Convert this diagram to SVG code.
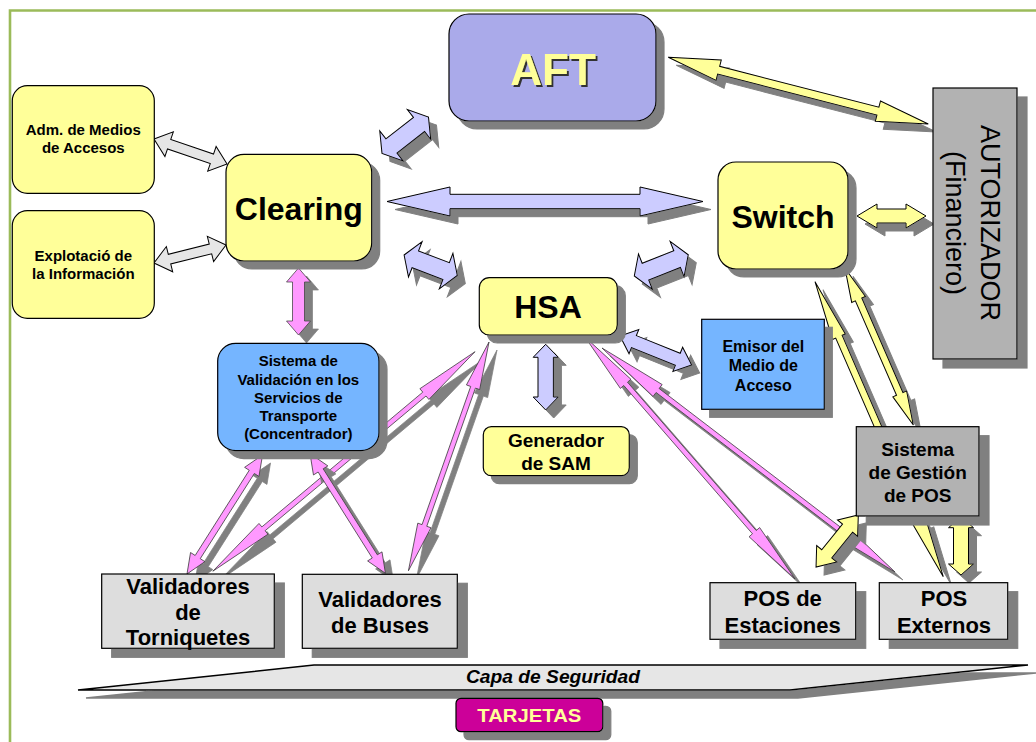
<svg xmlns="http://www.w3.org/2000/svg" width="1036" height="742" viewBox="0 0 1036 742">
  <defs>
    <!-- flat grey drop shadows -->
    <filter id="sh" filterUnits="userSpaceOnUse" x="0" y="0" width="1036" height="742">
      <feOffset in="SourceAlpha" dx="8" dy="8" result="o"/>
      <feFlood flood-color="#808080"/>
      <feComposite in2="o" operator="in" result="s"/>
      <feMerge><feMergeNode in="s"/><feMergeNode in="SourceGraphic"/></feMerge>
    </filter>
    <filter id="sh10" filterUnits="userSpaceOnUse" x="0" y="0" width="1036" height="742">
      <feOffset in="SourceAlpha" dx="10" dy="9" result="o"/>
      <feFlood flood-color="#808080"/>
      <feComposite in2="o" operator="in" result="s"/>
      <feMerge><feMergeNode in="s"/><feMergeNode in="SourceGraphic"/></feMerge>
    </filter>
    <filter id="tsh" filterUnits="userSpaceOnUse" x="0" y="0" width="1036" height="742">
      <feOffset in="SourceAlpha" dx="2" dy="2" result="o"/>
      <feFlood flood-color="#333333"/>
      <feComposite in2="o" operator="in" result="s"/>
      <feMerge><feMergeNode in="s"/><feMergeNode in="SourceGraphic"/></feMerge>
    </filter>
    <style>
      text { font-family: "Liberation Sans", Arial, sans-serif; font-weight: bold; text-anchor: middle; fill: #000; }
      .big { font-size: 32px; }
      .sm { font-size: 15px; }
      .md { font-size: 19px; }
      .lg { font-size: 22px; }
      .box { stroke: #000; stroke-width: 1.2; }
      .yel { fill: #FFFF99; }
      .blu { fill: #75B5FF; }
      .gry { fill: #B2B2B2; }
      .lgr { fill: #DDDDDD; }
      .ar { stroke: #000; stroke-width: 1; stroke-linejoin: miter; }
      .a-gray { fill: #E6E6E6; }
      .a-pur { fill: #CCCCFF; }
      .a-yel { fill: #FFFF99; }
      .a-pink { fill: #FF99FF; stroke: #333; stroke-width: 0.7; }
    </style>
  </defs>

  <rect width="1036" height="742" fill="#FFFFFF"/>
  <!-- green frame -->
  <path d="M10,742 V10.5 H1036" fill="none" stroke="#9BBB59" stroke-width="2.6"/>

  <g id="connectors">
    <!-- pink links (HSA / concentrator to validators and POS) -->
    <g filter="url(#sh)"><polygon class="a-pink" transform="translate(475,351.7) rotate(140.06)" points="0,0 66,-7 66,-2.5 275.9,-2.5 275.9,-7 341.9,0 275.9,7 275.9,2.5 66,2.5 66,7"/></g>
    <g filter="url(#sh)"><polygon class="a-pink" transform="translate(489,342) rotate(109.4)" points="0,0 48,-7 48,-2.5 194.5,-2.5 194.5,-7 242.5,0 194.5,7 194.5,2.5 48,2.5 48,7"/></g>
    <g filter="url(#sh)"><polygon class="a-pink" transform="translate(585,337) rotate(49.05)" points="0,0 62,-7 62,-2.5 258.4,-2.5 258.4,-7 320.4,0 258.4,7 258.4,2.5 62,2.5 62,7"/></g>
    <g filter="url(#sh)"><polygon class="a-pink" transform="translate(602,348) rotate(37.4)" points="0,0 70,-7.5 70,-2.5 298.8,-2.5 298.8,-7.5 368.8,0 298.8,7.5 298.8,2.5 70,2.5 70,7.5"/></g>
    <g filter="url(#sh)"><polygon class="a-pink" transform="translate(262.5,455) rotate(122.4)" points="0,0 20,-8.5 20,-3 120.9,-3 120.9,-8.5 140.9,0 120.9,8.5 120.9,3 20,3 20,8.5"/></g>
    <g filter="url(#sh)"><polygon class="a-pink" transform="translate(310,453.5) rotate(57.8)" points="0,0 20,-8.5 20,-3 121.6,-3 121.6,-8.5 141.6,0 121.6,8.5 121.6,3 20,3 20,8.5"/></g>
    <g filter="url(#sh)"><polygon class="a-pink" transform="translate(298.5,268) rotate(90)" points="0,0 14,-12 14,-6 53,-6 53,-12 67,0 53,12 53,6 14,6 14,12"/></g>

    <!-- grey links to Clearing -->
    <polygon class="ar a-gray" transform="translate(154,139) rotate(18.9)" points="0,0 16,-13 16,-5 61.2,-5 61.2,-13 77.2,0 61.2,13 61.2,5 16,5 16,13"/>
    <polygon class="ar a-gray" transform="translate(154,263) rotate(-14)" points="0,0 16,-13 16,-5 58.2,-5 58.2,-13 74.2,0 58.2,13 58.2,5 16,5 16,13"/>

    <!-- lavender links -->
    <g filter="url(#sh)"><polygon class="ar a-pur" transform="translate(387,201.5)" points="0,0 63,-14.5 63,-7.2 253,-7.2 253,-14.5 316,0 253,14.5 253,7.2 63,7.2 63,14.5"/></g>
    <g filter="url(#sh)"><polygon class="ar a-pur" transform="translate(382,153.4) rotate(-38)" points="0,0 12,-19 12,-9 47,-9 47,-19 59,0 47,19 47,9 12,9 12,19"/></g>
    <g filter="url(#sh)"><polygon class="ar a-pur" transform="translate(404.1,255) rotate(21)" points="0,0 12,-19 12,-9 45,-9 45,-19 57,0 45,19 45,9 12,9 12,19"/></g>
    <g filter="url(#sh)"><polygon class="ar a-pur" transform="translate(634.3,276) rotate(-21.5)" points="0,0 12,-19 12,-9 46,-9 46,-19 58,0 46,19 46,9 12,9 12,19"/></g>
    <g filter="url(#sh)"><polygon class="ar a-pur" transform="translate(620,336) rotate(22)" points="0,0 15,-13 15,-6.5 62.3,-6.5 62.3,-13 77.3,0 62.3,13 62.3,6.5 15,6.5 15,13"/></g>
    <g filter="url(#sh)"><polygon class="ar a-pur" transform="translate(545.7,344.3) rotate(90)" points="0,0 13,-12.5 13,-7.7 52.7,-7.7 52.7,-12.5 65.7,0 52.7,12.5 52.7,7.7 13,7.7 13,12.5"/></g>

    <!-- yellow links (authorizer and POS management) -->
    <g filter="url(#sh)"><polygon class="ar a-yel" transform="translate(668.3,57.3) rotate(14.4)" points="0,0 52,-10.5 52,-4 216.4,-4 216.4,-10.5 268.4,0 216.4,10.5 216.4,4 52,4 52,10.5"/></g>
    <g filter="url(#sh)"><polygon class="ar a-yel" transform="translate(857,216)" points="0,0 20,-12 20,-7 49,-7 49,-12 69,0 49,12 49,7 20,7 20,12"/></g>
    <g filter="url(#sh)"><polygon class="ar a-yel" transform="translate(845,268.3) rotate(66.45)" points="0,0 34,-7.5 34,-3.5 137,-3.5 137,-7.5 171,0 137,7.5 137,3.5 34,3.5 34,7.5"/></g>
    <g filter="url(#sh)"><polygon class="ar a-yel" transform="translate(815,281.7) rotate(66.5)" points="0,0 60,-7 60,-3.5 261.7,-3.5 261.7,-7 321.7,0 261.7,7 261.7,3.5 60,3.5 60,7"/></g>
    <g filter="url(#sh)"><polygon class="ar a-yel" transform="translate(858.3,515) rotate(129.1)" points="0,0 17,-13 17,-6.5 50,-6.5 50,-13 67,0 50,13 50,6.5 17,6.5 17,13"/></g>
    <g filter="url(#sh)"><polygon class="ar a-yel" transform="translate(961,516.7) rotate(90)" points="0,0 11,-12.5 11,-7.5 47.3,-7.5 47.3,-12.5 58.3,0 47.3,12.5 47.3,7.5 11,7.5 11,12.5"/></g>
  </g>

  <g id="aft">
    <rect class="box" x="449" y="14" width="207" height="107" rx="20" fill="#AAAAEA" filter="url(#sh)"/>
    <text x="553" y="85" font-size="44" fill="#FFFF99" style="fill:#FFFF99" filter="url(#tsh)">AFT</text>
  </g>

  <g id="adm-medios">
    <rect class="box yel" x="12.3" y="85.7" width="142" height="107.6" rx="15"/>
    <text class="sm" x="83.3" y="135">Adm. de Medios</text>
    <text class="sm" x="83.3" y="152.7">de Accesos</text>
  </g>

  <g id="explotacion">
    <rect class="box yel" x="12.3" y="210.7" width="142" height="107.6" rx="15"/>
    <text class="sm" x="83.3" y="260.7">Explotació de</text>
    <text class="sm" x="83.3" y="278.7">la Información</text>
  </g>

  <g id="clearing">
    <rect class="box yel" x="226" y="154.3" width="145.7" height="106.7" rx="18" filter="url(#sh)"/>
    <text class="big" x="298.8" y="220">Clearing</text>
  </g>

  <g id="switch">
    <rect class="box yel" x="718" y="162" width="130" height="107" rx="18" filter="url(#sh)"/>
    <text class="big" x="783" y="228">Switch</text>
  </g>

  <g id="autorizador">
    <rect class="box gry" x="933" y="88" width="84" height="271" filter="url(#sh10)"/>
    <text transform="translate(980.5,223) rotate(90)" x="0" y="0" font-size="27" style="font-weight:normal">AUTORIZADOR</text>
    <text transform="translate(946,223) rotate(90)" x="0" y="0" font-size="27" style="font-weight:normal">(Financiero)</text>
  </g>

  <g id="hsa">
    <rect class="box yel" x="479.3" y="277.7" width="138" height="57.3" rx="10" filter="url(#sh)"/>
    <text class="big" x="548" y="318.3">HSA</text>
  </g>

  <g id="generador-sam">
    <rect class="box yel" x="483.3" y="426.7" width="146" height="49" rx="8" filter="url(#sh)"/>
    <text class="md" x="556" y="446.7">Generador</text>
    <text class="md" x="556" y="470">de SAM</text>
  </g>

  <g id="sistema-validacion">
    <rect class="box blu" x="217.7" y="343.3" width="161.3" height="107.4" rx="18" filter="url(#sh)"/>
    <text class="sm" x="298.3" y="366">Sistema de</text>
    <text class="sm" x="298.3" y="385">Validación en los</text>
    <text class="sm" x="298.3" y="402.7">Servicios de</text>
    <text class="sm" x="298.3" y="420.7">Transporte</text>
    <text class="sm" x="298.3" y="439.3">(Concentrador)</text>
  </g>

  <g id="emisor">
    <rect class="box blu" x="701.7" y="319.3" width="122.6" height="90" filter="url(#sh)"/>
    <text x="763.3" y="351.7" font-size="16">Emisor del</text>
    <text x="763.3" y="371" font-size="16">Medio de</text>
    <text x="763.3" y="391" font-size="16">Acceso</text>
  </g>

  <g id="gestion-pos">
    <rect class="box gry" x="856.3" y="426.7" width="122.7" height="89.3" filter="url(#sh10)"/>
    <text class="md" x="917.7" y="456">Sistema</text>
    <text class="md" x="917.7" y="479.3">de Gestión</text>
    <text class="md" x="917.7" y="501.7">de POS</text>
  </g>

  <g id="validadores-torniquetes">
    <rect class="box lgr" x="101.7" y="574" width="172.6" height="74.3" filter="url(#sh10)"/>
    <text class="lg" x="188" y="594">Validadores</text>
    <text class="lg" x="188" y="620">de</text>
    <text class="lg" x="188" y="645">Torniquetes</text>
  </g>

  <g id="validadores-buses">
    <rect class="box lgr" x="302.3" y="574.3" width="155" height="74" filter="url(#sh10)"/>
    <text class="lg" x="380" y="606.7">Validadores</text>
    <text class="lg" x="380" y="632.7">de Buses</text>
  </g>

  <g id="pos-estaciones">
    <rect class="box lgr" x="710" y="582.7" width="145.7" height="56.6" filter="url(#sh10)"/>
    <text class="lg" x="782.7" y="606">POS de</text>
    <text class="lg" x="782.7" y="632.7">Estaciones</text>
  </g>

  <g id="pos-externos">
    <rect class="box lgr" x="879.3" y="582.7" width="128.4" height="56.6" filter="url(#sh10)"/>
    <text class="lg" x="944" y="606">POS</text>
    <text class="lg" x="944" y="632.7">Externos</text>
  </g>

  <g id="capa-seguridad">
    <polygon points="78,690 314,665 1028,665 790,690" fill="#E6E6E6" stroke="#000" stroke-width="1.5" filter="url(#sh)"/>
    <text x="553" y="683.3" font-size="18" font-style="italic" textLength="174" lengthAdjust="spacingAndGlyphs">Capa de Seguridad</text>
  </g>

  <g id="tarjetas">
    <rect class="box" x="456" y="698.3" width="146.8" height="33.4" rx="5" fill="#CC0099" filter="url(#sh)"/>
    <text x="529.3" y="721.7" font-size="19" style="fill:#FFFF99" textLength="104" lengthAdjust="spacingAndGlyphs">TARJETAS</text>
  </g>
</svg>
